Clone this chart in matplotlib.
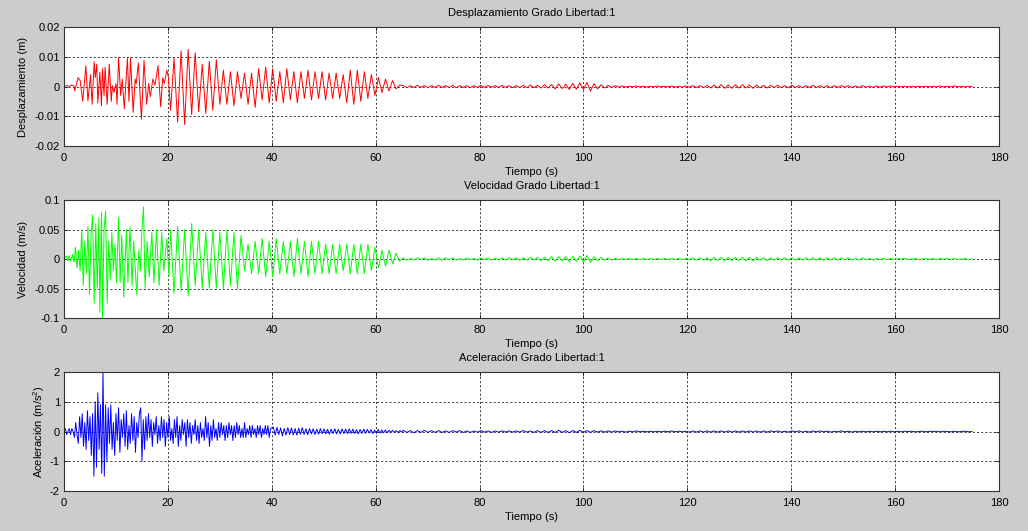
import numpy as np
import matplotlib.pyplot as plt

plt.rcParams['font.family'] = ['Liberation Sans', 'DejaVu Sans']
plt.rcParams['mathtext.default'] = 'regular'
plt.rcParams['font.size'] = 8

# Desplazamiento: extremos (t en s, valor en mm)
desp_ini = [
    (0.0, 0.0), (0.5, 0.3), (1.0, 0.1), (1.5, 0.5), (1.9, 0.2), (2.05, -1.5),
    (2.4, 1.0), (2.7, 3.0), (3.1, 2.0), (3.6, -5.0), (4.2, 7.0), (4.6, -4.8),
    (5.1, 4.0), (5.4, -6.0), (5.8, 8.3), (6.0, 3.0), (6.3, 7.5), (6.5, -5.5),
    (6.9, 4.8), (7.2, -6.5), (7.4, 6.0), (7.7, -3.0), (7.9, 6.5), (8.3, -6.0),
    (8.7, 7.5), (9.1, -5.0), (9.3, 0.3), (9.6, -2.0), (10.0, 1.0), (10.2, -6.0),
    (10.5, 9.7), (10.9, -3.0), (11.2, 2.5), (11.6, -7.5), (12.2, 9.5), (12.5, -5.0),
    (12.8, 9.7), (13.3, -8.7), (13.7, 2.5), (13.9, 1.0), (14.3, 8.0), (14.9, -11.0),
    (15.4, 8.8), (15.9, -6.0), (16.3, 1.0), (16.6, -3.5), (17.1, 2.5), (17.5, 0.5),
    (18.1, 7.0), (18.6, -6.8), (19.0, 3.0), (19.3, 1.0), (19.8, 5.5), (20.1, 3.0),
]
# semiciclos de 20.5 s a 64.6 s (mm)
desp_medio = [
    -8.0, 9.5, -12.0, 12.0, -12.8, 12.5, -9.5, 11.3, -8.5, 7.5,
    -9.0, 8.5, -8.0, 9.0, -6.0, 5.5, -6.0, 5.0, -6.5, 5.0,
    -4.0, 4.5, -6.0, 4.5, -7.0, 6.0, -4.5, 6.5, -5.5, 6.0,
    -5.0, 5.0, -5.5, 6.0, -4.5, 5.0, -5.5, 5.0, -4.0, 5.5,
    -4.5, 5.0, -4.0, 5.0, -4.5, 4.5, -4.0, 4.5, -4.0, 4.0,
    -5.5, 5.5, -6.0, 5.5, -5.0, 5.0, -4.0, 4.0, -3.0, 3.0,
    -2.0, 2.5, -1.5, 2.0, -0.8, 0.5,
]
# cola de 65.3 s a 174.8 s (1e-4 m)
desp_cola = [
    3, -4, 3, -3, 4, -3, 3, -4, 3, -3,
    4, -3, 3, -3, 4, -4, 3, -3, 3, -4,
    3, -3, 4, -3, 3, -2, 3, -3, 4, -3,
    3, -4, 3, -3, 4, -4, 5, -4, 4, -5,
    6, -5, 7, -8, 9, -7, 8, -10, 11, -9,
    12, -10, 14, -15, 10, -8, 6, -5, 4, -3,
    3, -2, 2, -2, 1, -1, 2, -1, 1, -2,
    1, -1, 2, -1, 1, -1, 2, -2, 1, -2,
    2, -2, 3, -3, 3, -4, 4, -5, 5, -5,
    6, -6, 5, -6, 6, -5, 6, -5, 5, -6,
    5, -4, 4, -5, 4, -3, 4, -4, 3, -4,
    4, -3, 3, -4, 3, -3, 4, -3, 3, -3,
    3, -4, 3, -3, 3, -2, 3, -3, 2, -3,
    3, -2, 2, -3, 2, -2, 2, -1, 2, -1,
    1, -1, 1, -1, 1, -1, 1, -1, 1, -1,
    1, -1, 2, -1, 1, -1, 2, -1, 1, -1,
    1, 0,
]

# Velocidad (t en s, valor en cm/s)
vel_ini = [
    (0.0, 0.0), (0.4, 0.5), (0.7, -0.3), (1.0, 0.6), (1.3, -0.4), (1.6, 0.8),
    (1.9, -0.5), (2.2, 2.0), (2.5, -1.5), (2.8, 1.5), (3.1, -2.0), (3.4, 5.0),
    (3.7, -4.5), (4.0, 3.0), (4.3, -2.5), (4.6, 5.5), (4.9, -6.0), (5.2, 4.0),
    (5.5, 7.5), (5.8, -7.5), (6.1, 6.0), (6.4, -5.0), (6.7, 7.0), (6.9, -9.0),
    (7.2, 8.0), (7.4, -10.0), (7.7, 5.0), (8.0, 8.2), (8.3, -7.5), (8.6, 3.0),
    (8.9, -3.5), (9.2, 4.5), (9.5, -2.0), (9.8, 2.5), (10.1, -4.0), (10.5, 7.0),
    (10.8, -4.0), (11.1, 4.0), (11.5, -6.5), (12.0, 5.0), (12.3, -4.0), (12.7, 5.5),
    (13.1, -4.5), (13.4, 3.0), (14.0, -6.0), (14.4, 1.5), (14.7, -2.0), (15.0, 5.0),
    (15.3, 8.8), (15.6, -5.0), (16.0, 3.0), (16.4, -3.0), (16.9, 4.5), (17.3, -4.0),
    (17.8, 5.0), (18.3, -4.5), (18.8, 4.5), (19.2, -2.0), (19.8, 3.5), (20.2, -3.0),
]
# semiciclos de 20.5 s a 64.6 s (cm/s)
vel_medio = [
    5.0, -5.8, 5.5, -5.5, 5.0, -6.2, 6.0, -4.5, 5.0, -5.0,
    4.5, -5.0, 5.0, -5.0, 4.5, -5.0, 5.0, -4.5, 4.5, -5.0,
    4.0, -2.0, 2.5, -2.5, 3.0, -2.5, 3.5, -3.0, 3.0, -3.0,
    3.5, -2.5, 3.0, -2.5, 3.0, -3.0, 3.5, -2.5, 3.0, -3.0,
    3.0, -2.5, 3.0, -2.5, 2.5, -2.5, 2.5, -2.5, 2.5, -2.0,
    2.5, -2.5, 2.5, -2.5, 2.5, -2.5, 2.5, -2.0, 2.0, -1.5,
    1.5, -1.2, 1.5, -0.8, 1.0, -0.4,
]
# cola de 65.3 s a 174.8 s (mm/s)
vel_cola = [
    2, -2, 1, -2, 2, -1, 2, -2, 1, -2,
    2, -2, 2, -1, 2, -2, 1, -2, 2, -1,
    1, -2, 2, -1, 2, -2, 1, -1, 2, -2,
    2, -1, 2, -2, 2, -2, 3, -2, 3, -3,
    3, -3, 4, -4, 4, -3, 4, -5, 5, -4,
    5, -5, 6, -6, 4, -3, 3, -2, 2, -2,
    1, -1, 1, -1, 1, -1, 1, -1, 1, -1,
    1, -1, 1, -1, 1, -1, 1, -1, 1, -1,
    1, -1, 2, -2, 2, -2, 2, -3, 3, -3,
    3, -3, 3, -3, 3, -3, 3, -3, 3, -3,
    3, -2, 2, -3, 2, -2, 2, -2, 2, -2,
    2, -2, 2, -2, 2, -2, 2, -2, 2, -2,
    2, -2, 2, -2, 2, -1, 2, -2, 1, -2,
    2, -1, 1, -2, 1, -1, 1, -1, 1, -1,
    1, 0, 1, -1, 0, 1, -1, 0, 1, -1,
    1, -1, 1, 0, 1, -1, 1, -1, 0, 1,
    -1, 0,
]

# Aceleracion: 0 a 39.75 s cada 0.25 s (0.1 m/s2)
acel_ini = [
    0, 1, -1, 0, 1, -1, 1, 0,
    -2, 3, -1, -4, 5, -2, 6, -5,
    3, -6, 7, -3, 5, -8, 6, -15,
    10, -12, 13, -6, 9, -14, 20, -15,
    9, -10, 8, -4, 9, -6, 3, -8,
    6, -3, 8, -7, 4, -2, 6, -5,
    7, -6, 2, -4, 6, -3, 5, -7,
    3, -2, 6, 8, -10, 4, -6, 5,
    -3, 6, -2, 4, -5, 3, -1, 5,
    -4, 2, -3, 5, -2, 4, -5, 3,
    -2, 5, -3, 1, -4, 4, -2, 5,
    -5, 2, -3, 4, -1, 3, -5, 4,
    -2, 3, -4, 2, -1, 4, -3, 2,
    -4, 3, -2, 1, -3, 5, -2, 3,
    -5, 2, -3, 4, -2, 1, -3, 3,
    -2, 3, -1, 2, -3, 2, -2, 3,
    -1, 2, -3, 2, -2, 3, -1, 2,
    -2, 1, -2, 3, -2, 1, -1, 2,
    -2, 2, -1, 1, -2, 2, -1, 2,
    -2, 1, -1, 2, -1, 2, -2, 1,
]
# de 40.3 s a 65 s (0.01 m/s2)
acel_medio = [
    15, -12, 14, -10, 12, -15, 10, -12, 13, -10, 12, -11, 10, -12, 11, -9, 13, -10, 9, -11,
    10, -8, 9, -10, 8, -9, 10, -7, 9, -8, 7, -9, 8, -7, 9, -8, 7, -8, 9, -7,
    8, -7, 9, -6, 8, -7, 6, -8, 7, -6, 8, -6, 7, -5, 6, -7, 5, -6, 7, -5,
    5, -4, 5, -4, 4, -3, 4, -3, 3, -3, 3, -2,
]
# cola de 65.3 s a 174.8 s (0.01 m/s2)
acel_cola = [
    4, -3, 3, -4, 3, -3, 4, -3, 3, -3,
    3, -3, 2, -3, 3, -2, 3, -3, 2, -3,
    2, -2, 3, -2, 2, -3, 2, -2, 2, -2,
    2, -2, 2, -2, 3, -2, 2, -3, 3, -3,
    3, -3, 3, -3, 4, -3, 3, -4, 3, -3,
    4, -3, 3, -3, 3, -2, 2, -2, 2, -2,
    2, -1, 1, -2, 1, -1, 2, -1, 1, -1,
    1, -1, 1, -1, 1, -1, 2, -1, 1, -1,
    1, -2, 2, -2, 2, -2, 2, -2, 2, -2,
    2, -2, 2, -2, 2, -2, 2, -2, 2, -2,
    2, -2, 2, -2, 2, -1, 2, -2, 1, -2,
    2, -1, 2, -2, 1, -2, 2, -1, 2, -1,
    1, -2, 1, -1, 2, -1, 1, -2, 1, -1,
    1, -1, 1, -1, 1, -1, 1, -1, 1, -1,
    1, -1, 1, 0, 1, -1, 0, 1, -1, 1,
    0, 1, -1, 1, 0, -1, 1, -1, 0, 1,
    -1, 0,
]

x_ticks = [0, 20, 40, 60, 80, 100, 120, 140, 160, 180]

# armado de las series
t_d = np.concatenate([[p[0] for p in desp_ini],
                      np.linspace(20.5, 64.6, len(desp_medio)),
                      np.linspace(65.3, 174.8, len(desp_cola))])
y_d = np.concatenate([np.array([p[1] for p in desp_ini]) * 1e-3,
                      np.array(desp_medio) * 1e-3,
                      np.array(desp_cola) * 1e-4])

t_v = np.concatenate([[p[0] for p in vel_ini],
                      np.linspace(20.5, 64.6, len(vel_medio)),
                      np.linspace(65.3, 174.8, len(vel_cola))])
y_v = np.concatenate([np.array([p[1] for p in vel_ini]) * 1e-2,
                      np.array(vel_medio) * 1e-2,
                      np.array(vel_cola) * 1e-3])

t_a = np.concatenate([np.arange(len(acel_ini)) * 0.25,
                      np.linspace(40.3, 65.0, len(acel_medio)),
                      np.linspace(65.3, 174.8, len(acel_cola))])
y_a = np.concatenate([np.array(acel_ini) * 0.1,
                      np.array(acel_medio) * 0.01,
                      np.array(acel_cola) * 0.01])

fig = plt.figure(figsize=(10.28, 5.31), dpi=100, facecolor='#cccccc')

paneles = [
    ([0.0623, 0.7250, 0.9095, 0.2241], t_d, y_d, 'red',
     'Desplazamiento Grado Libertad:1', 'Desplazamiento (m)', 5,
     [-0.02, -0.01, 0, 0.01, 0.02], ['-0.02', '-0.01', '0', '0.01', '0.02']),
    ([0.0623, 0.4011, 0.9095, 0.2222], t_v, y_v, 'lime',
     'Velocidad Grado Libertad:1', 'Velocidad (m/s)', 5,
     [-0.1, -0.05, 0, 0.05, 0.1], ['-0.1', '-0.05', '0', '0.05', '0.1']),
    ([0.0623, 0.0753, 0.9095, 0.2241], t_a, y_a, 'blue',
     'Aceleración Grado Libertad:1', 'Aceleración (m/s$^2$)', 2,
     [-2, -1, 0, 1, 2], ['-2', '-1', '0', '1', '2']),
]

for pos, t, y, color, titulo, etiqueta, lpad, yt, ytl in paneles:
    ax = fig.add_axes(pos)
    ax.plot(t, y, color=color, lw=0.7)
    ax.set_xlim(0, 180)
    ax.set_ylim(yt[0], yt[-1])
    ax.set_xticks(x_ticks)
    ax.set_yticks(yt)
    ax.set_yticklabels(ytl)
    ax.grid(True, color='#222222', linestyle=(0, (2.5, 2.5)), linewidth=0.6)
    ax.tick_params(direction='in', length=3, width=0.5, top=True, right=True,
                   labelsize=8)
    ax.tick_params(axis='x', pad=5)
    ax.tick_params(axis='y', pad=3)
    for s in ax.spines.values():
        s.set_linewidth(0.8)
        s.set_color('#333333')
    ax.set_title(titulo, fontsize=8, pad=8)
    ax.set_xlabel('Tiempo (s)', fontsize=8, labelpad=3)
    ax.set_ylabel(etiqueta, fontsize=8, labelpad=lpad)

fig.savefig('out.png', dpi=100, facecolor=fig.get_facecolor())
